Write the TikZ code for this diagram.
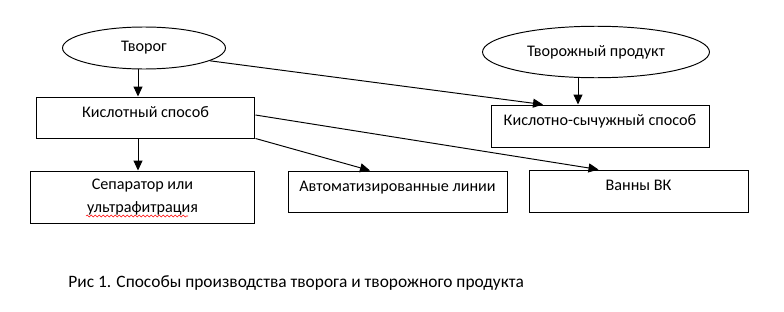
\documentclass[tikz,border=0pt]{standalone}
\usepackage{fontspec}
\setmainfont{Carlito}
\usepackage{tikz}
\usetikzlibrary{arrows.meta}
\usetikzlibrary{calc}
\usetikzlibrary{shapes.geometric,decorations.pathmorphing}

\begin{document}
\begin{tikzpicture}[x=0.02cm,y=-0.02cm,
		every node/.style={font=\fontsize{9.2}{13}\selectfont},
		oval/.style={draw,ellipse,line width=0.55pt,inner sep=0pt},
		box/.style={draw,rectangle,line width=0.55pt,minimum width=4.38cm,minimum height=0.82cm,inner sep=0pt,text height=6pt,text depth=6.5pt},
		arr/.style={line width=0.55pt,-{Triangle[length=2mm,width=1.8mm]}}]
			\useasboundingbox (0,0) rectangle (784,311);
			\node[oval,minimum width=3.26cm,minimum height=0.84cm] (tvorog) at (144,48) {Творог};
			\node[oval,minimum width=4.54cm,minimum height=1.03cm] (tprod) at (596,52) {Творожный продукт};
			\node[box] (kisl) at (145.5,117.5) {Кислотный способ};
			\node[box,minimum width=4.36cm,minimum height=0.84cm] (kissych) at (600,126) {Кислотно-сычужный способ};
			\node[box,minimum width=4.5cm,minimum height=1.04cm,align=center,text height=,text depth=] (separ) at (142.5,197) {Сепаратор или\\ультрафитрация};
			\node[box] (avto) at (397.5,191.5) {Автоматизированные линии};
			\node[box,minimum height=0.84cm] (vanny) at (638.5,191) {Ванны ВК};
			\node[anchor=west,inner sep=0pt,font=\fontsize{9.9}{12}\selectfont] (caption) at (68,283) {Рис 1. Способы производства творога и творожного продукта};
			\draw[arr] ([xshift=-0.12cm]tvorog.south) -- ([xshift=-0.12cm]tvorog.south |- kisl.north);
			\draw[arr] ([xshift=-0.15cm]kisl.south) -- ([xshift=-0.15cm]kisl.south |- separ.north);
			\draw[arr] ([xshift=-0.36cm]tprod.south) -- ([xshift=-0.36cm]tprod.south |- kissych.north);
			\draw[arr] (tvorog.-11) -- ([xshift=-1.14cm]kissych.north);
			\draw[arr] ([yshift=0.05cm]kisl.east) -- ([xshift=-0.8cm]vanny.north);
			\draw[arr] (kisl.south east) -- ([xshift=-0.55cm]avto.north);
			\draw[red,line width=0.3pt,decorate,decoration={snake,segment length=0.8mm,amplitude=0.2mm}] (86,216) -- (188,216);
		\end{tikzpicture}
\end{document}
